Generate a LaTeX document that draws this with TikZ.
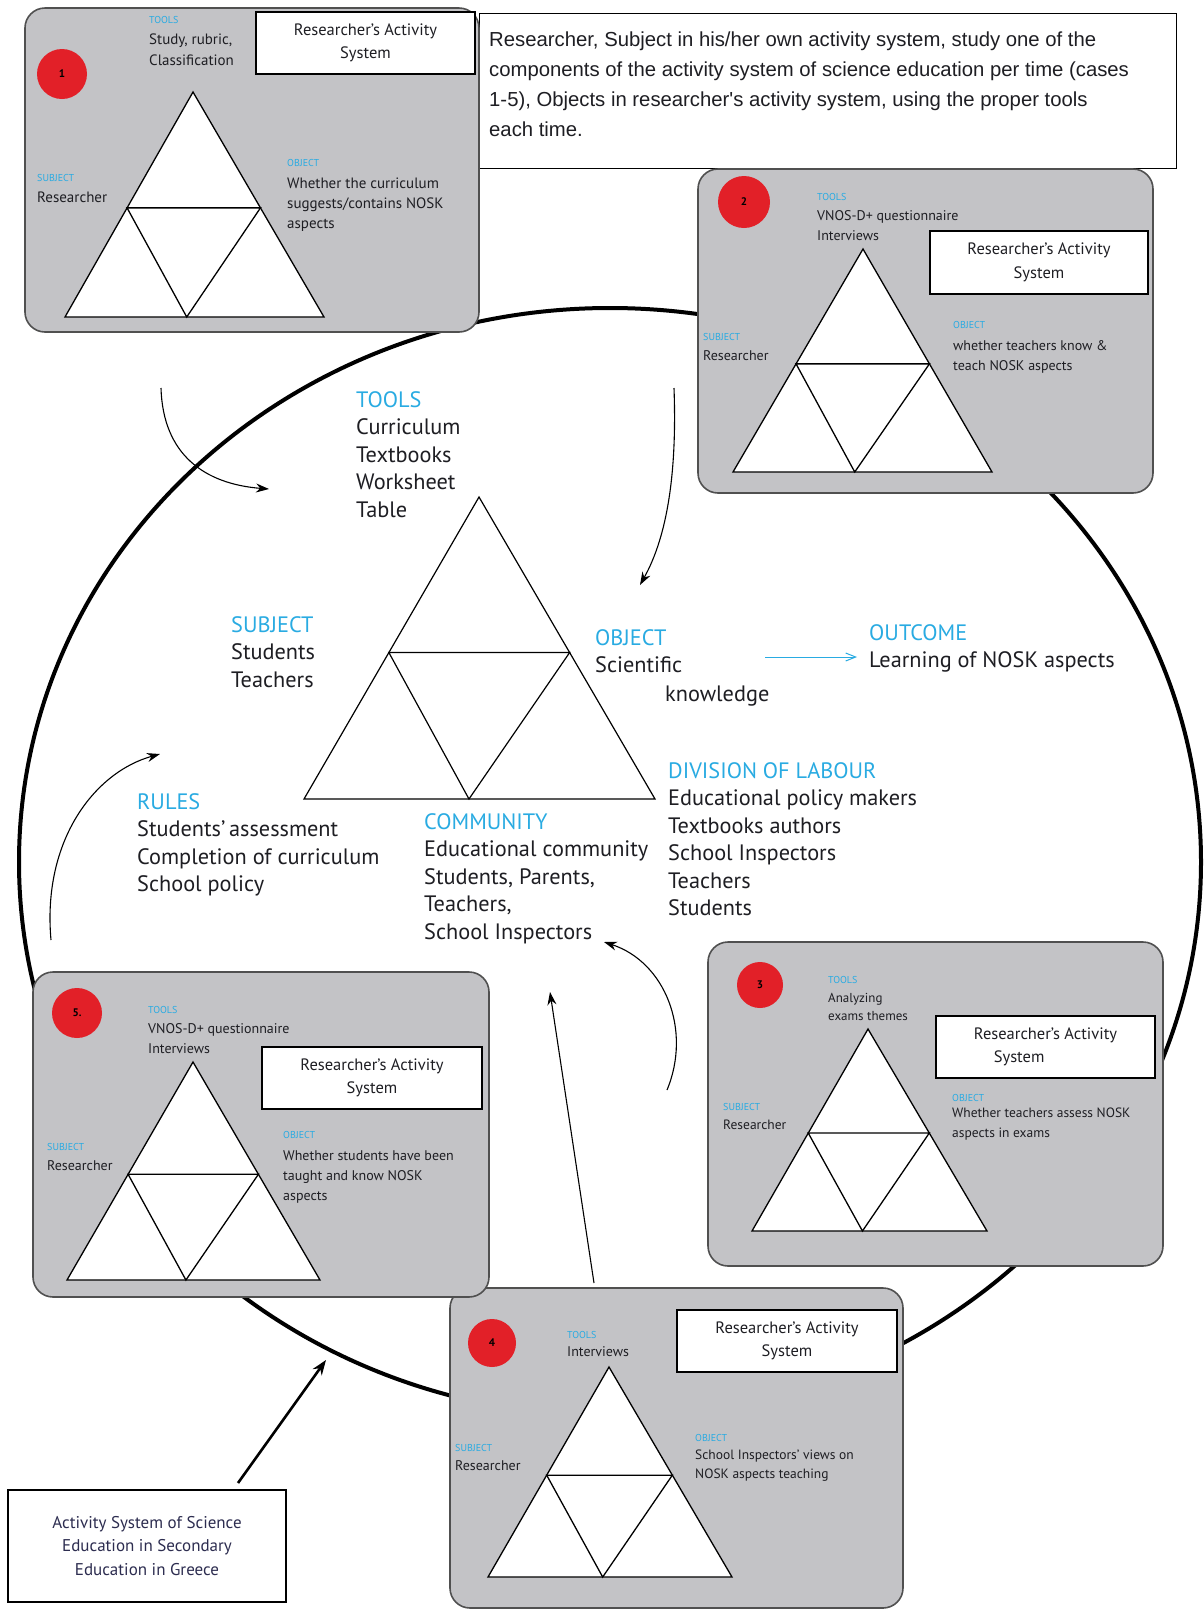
\documentclass[tikz,border=0pt]{standalone}
\usepackage{fontspec}
\setmainfont{PT Sans}
\newfontfamily\descfont{Liberation Sans}
\usetikzlibrary{arrows.meta,calc}
\definecolor{cy}{RGB}{41,171,226}
\definecolor{pgray}{RGB}{195,195,198}
\definecolor{pedge}{RGB}{80,80,80}
\definecolor{rdot}{RGB}{226,32,40}
\definecolor{txt}{RGB}{30,30,35}
\definecolor{navy}{RGB}{45,45,80}
\newcommand{\acttri}[5][1.3pt]{%
  \coordinate (#2a) at #3; \coordinate (#2l) at #4; \coordinate (#2r) at #5;
  \draw[line width=#1, fill=white] (#2a) -- (#2l) -- (#2r) -- cycle;
  \draw[line width=#1] ($(#2a)!0.515!(#2l)$) -- ($(#2a)!0.515!(#2r)$) -- ($(#2l)!0.47!(#2r)$) -- cycle;
}
\begin{document}
\begin{tikzpicture}[x=1pt,y=-1pt,
  panel/.style={draw=pedge, line width=1.6pt, fill=pgray, rounded corners=20pt, inner sep=0pt},
  rdotst/.style={circle, fill=rdot, inner sep=0pt, minimum size=50pt, font=\fontsize{11}{12}\selectfont\bfseries},
  ttl/.style={draw, fill=white, line width=1.2pt, inner sep=0pt, align=center, text=txt, font=\fontsize{16.5}{23.5}\selectfont},
  lab/.style={anchor=west, inner sep=0pt, text=cy, font=\fontsize{10}{12}\selectfont},
  ptxt/.style={anchor=north west, inner sep=0pt, align=left, text=txt, font=\fontsize{15}{20.5}\selectfont},
  stxt/.style={anchor=north west, inner sep=0pt, align=left, text=txt, font=\fontsize{13.5}{19}\selectfont},
  mtxt/.style={anchor=north west, inner sep=0pt, align=left, text=txt, font=\fontsize{22.3}{27.5}\selectfont},
  conn/.style={line width=1.1pt, -{Stealth[length=13pt,width=9pt]}},
]
\useasboundingbox (0,0) rectangle (1203,1610);
\fill[white] (0,0) rectangle (1203,1610);

% big cycle
\draw[line width=4pt] (610,862) ellipse [x radius=591pt, y radius=554pt];
\coordinate (cyc) at (326,1360);

% central activity system
\acttri[1.2pt]{m}{(479,497)}{(304,799)}{(655,799)}
\node[mtxt] (tools) at (356,391) {\textcolor{cy}{TOOLS}\\Curriculum\\Textbooks\\Worksheet\\Table};
\node[mtxt] (subject) at (231,616) {\textcolor{cy}{SUBJECT}\\Students\\Teachers};
\node[mtxt] (object) at (595,629) {\textcolor{cy}{OBJECT}\\Scientific};
\node[mtxt, anchor=west] (know) at (665,696) {knowledge};
\node[mtxt] (outcome) at (869,624) {\textcolor{cy}{OUTCOME}\\Learning of NOSK aspects};
\node[mtxt] (rules) at (137,793) {\textcolor{cy}{RULES}\\Students'\,assessment\\Completion of curriculum\\School policy};
\node[mtxt] (community) at (424,813) {\textcolor{cy}{COMMUNITY}\\Educational community\\Students, Parents,\\Teachers,\\School Inspectors};
\node[mtxt] (division) at (668,762) {\textcolor{cy}{DIVISION OF LABOUR}\\Educational policy makers\\Textbooks authors\\School Inspectors\\Teachers\\Students};
\coordinate (oa) at (765,657);
\coordinate (ob) at (857,657);
\draw[cy, line width=1pt, -{Straight Barb[length=10pt,width=8pt]}] (oa) -- (ob);

% description box
\node[draw, line width=1pt, fill=white, minimum width=697pt, minimum height=155pt, inner sep=0pt] (desc) at (827.5,90.5) {};
\node[anchor=north west, inner sep=0pt, align=left, text=txt, font=\descfont\fontsize{20.3}{29.7}\selectfont] (desctext) at (489,32)
 {Researcher, Subject in his/her own activity system, study one of the\\components of the activity system of science education per time (cases\\1-5), Objects in researcher's activity system, using the proper tools\\each time.};

% connectors
\coordinate (a1s) at (161,388); \coordinate (a1e) at (269,489);
\draw[conn] (a1s) .. controls (163,455) and (205,484) .. (a1e);
\coordinate (a2s) at (674,388); \coordinate (a2e) at (640,585);
\draw[conn] (a2s) .. controls (677,470) and (668,535) .. (a2e);
\coordinate (a3s) at (51,940); \coordinate (a3e) at (160,754);
\draw[conn] (a3s) .. controls (42,840) and (95,772) .. (a3e);
\coordinate (a4s) at (594,1283); \coordinate (a4e) at (550,992);
\draw[conn] (a4s) -- (a4e);
\coordinate (a5s) at (667,1090); \coordinate (a5e) at (604,942);
\draw[conn] (a5s) .. controls (692,1030) and (665,962) .. (a5e);

% bottom-left box
\node[draw, line width=1.3pt, fill=white, minimum width=278pt, minimum height=112pt, inner sep=0pt, align=center, text=navy, font=\fontsize{17}{23.5}\selectfont] (asys) at (147,1546)
 {Activity System of Science\\Education in Secondary\\Education in Greece};
\coordinate (a6s) at (238,1483);
\draw[line width=2.6pt, -{Stealth[length=15pt,width=11pt]}] (a6s) -- (cyc);

% ---------- panel 1
\node[panel, minimum width=454pt, minimum height=324pt] (p1) at (252,170) {};
\node[rdotst] (n1) at (62,74) {1};
\node[ttl, minimum width=219pt, minimum height=62pt] (t1) at (365.5,43) {Researcher's Activity\\System};
\acttri{q1}{(193,92)}{(65,317)}{(324,317)}
\node[lab] (tl1) at (149,20) {TOOLS};
\node[ptxt] (tx1) at (149,34) {Study, rubric,\\Classification};
\node[lab] (sl1) at (37,178) {SUBJECT};
\node[ptxt] (sx1) at (37,192) {Researcher};
\node[lab] (ol1) at (287,163) {OBJECT};
\node[ptxt, font=\fontsize{15}{20}\selectfont] (ox1) at (287,178) {Whether the curriculum\\suggests/contains NOSK\\aspects};

% ---------- panel 2
\node[panel, minimum width=455pt, minimum height=324pt] (p2) at (925.5,331) {};
\node[rdotst, minimum size=52pt] (n2) at (744,202) {2};
\node[ttl, minimum width=218pt, minimum height=63pt] (t2) at (1039,262.5) {Researcher's Activity\\System};
\acttri{q2}{(863,249)}{(733,472)}{(992,472)}
\node[lab] (tl2) at (817,197) {TOOLS};
\node[ptxt, font=\fontsize{14}{20}\selectfont] (tx2) at (817,210) {VNOS-D+ questionnaire\\Interviews};
\node[lab] (sl2) at (703,337) {SUBJECT};
\node[ptxt, font=\fontsize{14}{20}\selectfont] (sx2) at (703,350) {Researcher};
\node[lab] (ol2) at (953,325) {OBJECT};
\node[ptxt, font=\fontsize{14}{20}\selectfont] (ox2) at (953,340) {whether teachers know \&\\teach NOSK aspects};

% ---------- panel 3
\node[panel, minimum width=455pt, minimum height=324pt] (p3) at (935.5,1104) {};
\node[rdotst, minimum size=46pt] (n3) at (760,985) {3};
\node[ttl, minimum width=219pt, minimum height=62pt] (t3) at (1045.5,1047) {Researcher's Activity\\\hspace*{-3.2em}System};
\acttri{q3}{(868,1029)}{(752,1231)}{(987,1231)}
\node[lab] (tl3) at (828,980) {TOOLS};
\node[stxt, font=\fontsize{13}{18}\selectfont] (tx3) at (828,993) {Analyzing\\exams themes};
\node[lab] (sl3) at (723,1107) {SUBJECT};
\node[stxt] (sx3) at (723,1120) {Researcher};
\node[lab] (ol3) at (952,1098) {OBJECT};
\node[stxt, font=\fontsize{13.5}{20}\selectfont] (ox3) at (952,1108) {Whether teachers assess NOSK\\aspects in exams};

% ---------- panel 4
\node[panel, minimum width=453pt, minimum height=320pt] (p4) at (676.5,1448) {};
\node[rdotst, minimum size=48pt] (n4) at (492,1343) {4};
\node[ttl, minimum width=220pt, minimum height=62pt] (t4) at (787,1341) {Researcher's Activity\\System};
\acttri{q4}{(609,1367)}{(488,1577)}{(732,1577)}
\node[lab] (tl4) at (567,1335) {TOOLS};
\node[stxt, font=\fontsize{14}{19}\selectfont] (tx4) at (567,1346) {Interviews};
\node[lab] (sl4) at (455,1448) {SUBJECT};
\node[stxt, font=\fontsize{14}{19}\selectfont] (sx4) at (455,1460) {Researcher};
\node[lab] (ol4) at (695,1438) {OBJECT};
\node[stxt] (ox4) at (695,1450) {School Inspectors' views on\\NOSK aspects teaching};

% ---------- panel 5
\node[panel, minimum width=456pt, minimum height=325pt] (p5) at (261,1134.5) {};
\node[rdotst] (n5) at (77,1013) {5.};
\node[ttl, minimum width=220pt, minimum height=62pt] (t5) at (372,1078) {Researcher's Activity\\System};
\acttri{q5}{(193,1062)}{(67,1280)}{(320,1280)}
\node[lab] (tl5) at (148,1010) {TOOLS};
\node[ptxt, font=\fontsize{14}{20}\selectfont] (tx5) at (148,1023) {VNOS-D+ questionnaire\\Interviews};
\node[lab] (sl5) at (47,1147) {SUBJECT};
\node[ptxt, font=\fontsize{14}{20}\selectfont] (sx5) at (47,1160) {Researcher};
\node[lab] (ol5) at (283,1135) {OBJECT};
\node[ptxt, font=\fontsize{14}{20}\selectfont] (ox5) at (283,1150) {Whether students have been\\taught and know NOSK\\aspects};
\end{tikzpicture}
\end{document}
